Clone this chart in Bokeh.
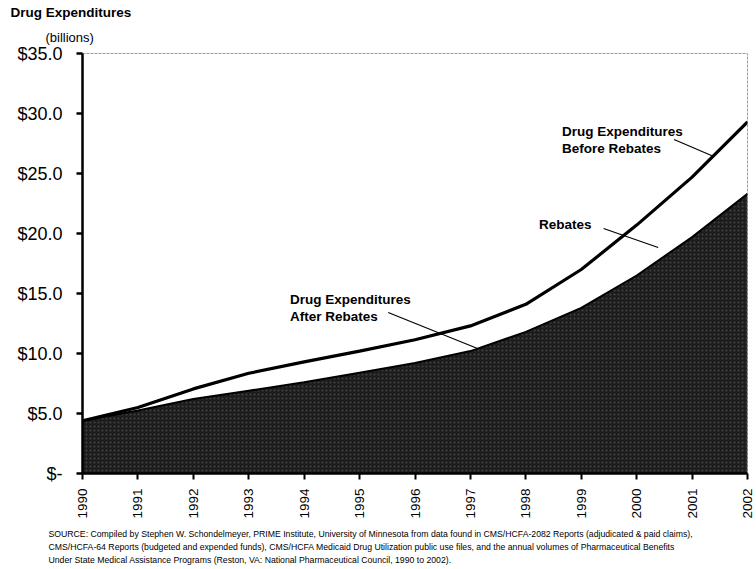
from bokeh.plotting import figure
from bokeh.models import Range1d, FixedTicker, Label, ColumnDataSource, Title
from bokeh.embed import file_html
from bokeh.resources import INLINE

years = [1990, 1991, 1992, 1993, 1994, 1995, 1996, 1997, 1998, 1999, 2000, 2001, 2002]
before_rebates = [4.4, 5.5, 7.05, 8.35, 9.3, 10.2, 11.15, 12.3, 14.1, 17.0, 20.7, 24.7, 29.3]
after_rebates = [4.4, 5.25, 6.2, 6.9, 7.6, 8.4, 9.2, 10.2, 11.8, 13.8, 16.5, 19.7, 23.3]
y_ticks = [0, 5, 10, 15, 20, 25, 30, 35]
y_tick_labels = {0: "$-", 5: "$5.0", 10: "$10.0", 15: "$15.0", 20: "$20.0",
                 25: "$25.0", 30: "$30.0", 35: "$35.0"}

source_lines = [
    "SOURCE:  Compiled by Stephen W. Schondelmeyer, PRIME Institute, University of Minnesota from data found in CMS/HCFA-2082 Reports (adjudicated & paid claims),",
    "CMS/HCFA-64 Reports (budgeted and expended funds), CMS/HCFA Medicaid Drug Utilization public use files, and the annual volumes of Pharmaceutical Benefits",
    "Under  State Medical Assistance Programs (Reston, VA: National Pharmaceutical Council, 1990 to 2002).",
]

W, H = 756, 569
FL, FT, FR, FB = 82, 53, 747, 473  # frame edges in figure pixels
p = figure(width=W, height=H, output_backend="svg", toolbar_location=None,
           x_range=Range1d(1990, 2002), y_range=Range1d(0, 35),
           min_border_left=FL, min_border_right=W - FR, min_border_top=FT,
           min_border_bottom=H - FB)
p.outline_line_color = "#9a9a9a"
p.outline_line_width = 1
p.outline_line_dash = "3 1"
p.grid.visible = False

src = ColumnDataSource(dict(x=years, top=before_rebates, bot=after_rebates,
                            zero=[0] * len(years)))
p.varea(x="x", y1="zero", y2="bot", source=src, fill_color="#1c1c1c",
        hatch_pattern="dot", hatch_color="#6a6a6a", hatch_scale=4, hatch_weight=1, hatch_alpha=0.5)
p.line(x="x", y="bot", source=src, line_color="black", line_width=2)
p.line(x="x", y="top", source=src, line_color="black", line_width=3.2)

# axes
p.yaxis.ticker = FixedTicker(ticks=y_ticks)
p.yaxis.major_label_overrides = y_tick_labels
p.yaxis.major_label_text_font = "Liberation Sans"
p.yaxis.major_label_text_font_size = "18px"
p.yaxis.major_label_text_color = "black"
p.yaxis.axis_line_width = 2.5
p.yaxis.axis_line_color = "black"
p.yaxis.major_tick_line_width = 2.5
p.yaxis.major_tick_out = 6
p.yaxis.major_tick_in = 0
p.yaxis.minor_tick_line_color = None
p.yaxis.major_label_standoff = 14

p.xaxis.ticker = FixedTicker(ticks=years)
p.xaxis.major_label_orientation = 1.5708
p.xaxis.major_label_text_font = "Liberation Sans"
p.xaxis.major_label_text_font_size = "13.5px"
p.xaxis.major_label_text_color = "black"
p.xaxis.axis_line_width = 2.5
p.xaxis.axis_line_color = "black"
p.xaxis.major_tick_line_width = 2
p.xaxis.major_tick_out = 6
p.xaxis.major_tick_in = 0
p.xaxis.minor_tick_line_color = None
p.xaxis.major_label_standoff = 9

# header titles (added nearest first)
p.add_layout(Title(text="(billions)", align="left", offset=-37, standoff=17,
                   text_font="Liberation Sans", text_font_size="13px",
                   text_font_style="normal", text_color="black"), "above")
p.add_layout(Title(text="Drug Expenditures", align="left", offset=-72, standoff=0,
                   text_font="Liberation Sans", text_font_size="13.5px",
                   text_font_style="bold", text_color="black"), "above")

# source note
p.add_layout(Title(text="\n".join(source_lines), align="left", offset=-34, standoff=10,
                   text_font="Liberation Sans", text_font_size="8.7px",
                   text_font_style="normal", text_color="black", text_line_height=1.3), "below")

# annotations (positions in data units, from reference pixel scale)
def px_to_x(px):
    return 1990 + (px - 82) / (670 / 12)

def py_to_y(py):
    return (473 - py) / 12.0

def ann(text, px, py):
    p.add_layout(Label(x=px_to_x(px), y=py_to_y(py), text=text, text_font="Liberation Sans",
                       text_font_size="13.5px", text_font_style="bold", text_color="black",
                       text_baseline="top", text_align="left", text_line_height=1.15))

ann("Drug Expenditures\nBefore Rebates", 565, 123)
ann("Rebates", 542, 216)
ann("Drug Expenditures\nAfter Rebates", 291, 291)

seg = ColumnDataSource(dict(
    x0=[px_to_x(678), px_to_x(607), px_to_x(390)],
    y0=[py_to_y(139), py_to_y(228), py_to_y(312)],
    x1=[px_to_x(718), px_to_x(662), px_to_x(480)],
    y1=[py_to_y(156), py_to_y(247), py_to_y(348)],
))
p.segment(x0="x0", y0="y0", x1="x1", y1="y1", source=seg, line_color="black", line_width=1.2)

open("out.html", "w").write(file_html(p, INLINE))
